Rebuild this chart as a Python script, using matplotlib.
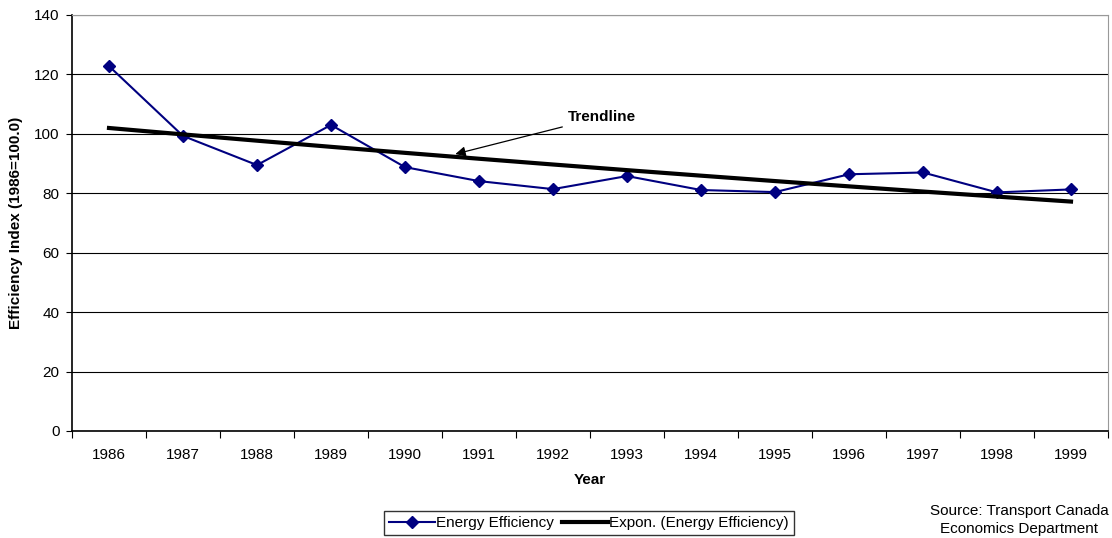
import numpy as np
import matplotlib.pyplot as plt

plt.rcParams['font.family'] = ['Liberation Sans', 'DejaVu Sans']

years = ['1986', '1987', '1988', '1989', '1990', '1991', '1992',
         '1993', '1994', '1995', '1996', '1997', '1998', '1999']
efficiency = [122.8, 99.3, 89.5, 103.0, 88.8, 84.1, 81.4,
              85.8, 81.1, 80.4, 86.4, 87.0, 80.3, 81.3]

x = np.arange(len(years))
# exponential trendline (least squares on log values, as in Excel)
b, a = np.polyfit(x, np.log(efficiency), 1)
trend = np.exp(a + b * x)

fs = 11

fig = plt.figure(figsize=(11.12, 5.38), dpi=100)
ax = fig.add_axes([72 / 1112, 1 - 431 / 538, (1108 - 72) / 1112, (431 - 15) / 538])

ax.set_ylim(0, 140)
ax.set_xlim(-0.5, len(years) - 0.5)
ax.set_yticks(range(0, 141, 20))
ax.yaxis.grid(True, color='black', linewidth=0.8)
ax.set_axisbelow(True)

ax.plot(x, efficiency, color='#000080', linewidth=1.5, marker='D', markersize=6.5,
        label='Energy Efficiency', zorder=3)
ax.plot(x, trend, color='black', linewidth=3, label='Expon. (Energy Efficiency)', zorder=4)

ax.set_xticks(x)
ax.set_xticklabels(years)
ax.set_xticks(np.arange(-0.5, len(years)), minor=True)
ax.tick_params(axis='x', which='major', length=0, pad=12, labelsize=fs)
ax.tick_params(axis='x', which='minor', length=5, direction='out', width=0.8)
ax.tick_params(axis='y', length=4, direction='out', labelsize=fs, width=0.8, pad=5)

for s in ['top', 'right']:
    ax.spines[s].set_color('#999999')
for s in ['left', 'bottom']:
    ax.spines[s].set_color('black')
    ax.spines[s].set_linewidth(1.2)

ax.set_xlabel('Year', fontweight='bold', fontsize=fs, labelpad=8)
ax.set_ylabel('Efficiency Index (1986=100.0)', fontweight='bold', fontsize=fs, labelpad=8)

ax.annotate('Trendline', xy=(4.68, 93.2), xytext=(6.2, 105.7),
            fontsize=fs, fontweight='bold', va='center', ha='left',
            arrowprops=dict(arrowstyle='-|>', color='black', lw=0.9,
                            mutation_scale=15, shrinkA=2, shrinkB=0))

fig.legend(loc='center', bbox_to_anchor=(589 / 1112, 1 - 523 / 538), ncol=2,
           fontsize=fs, frameon=True, fancybox=False, edgecolor='black',
           handlelength=3.0, handletextpad=0.1, columnspacing=0.5,
           borderpad=0.3, markerscale=1.0)

fig.text(1019 / 1112, 1 - 520 / 538, 'Source: Transport Canada\nEconomics Department',
         ha='center', va='center', fontsize=fs, multialignment='center', linespacing=1.3)

fig.savefig('out.png', dpi=100)
